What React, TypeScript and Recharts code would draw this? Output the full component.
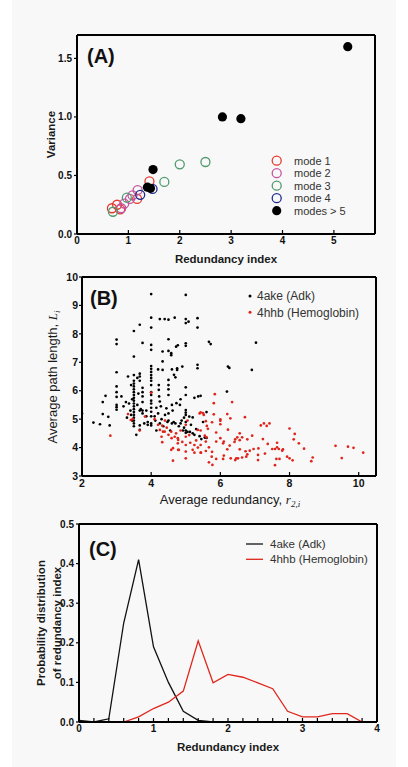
import React from 'react';
import { ScatterChart, Scatter, XAxis, YAxis, LineChart, Line } from 'recharts';

const FONT = '"Liberation Sans", Arial, Helvetica, sans-serif';
const SERIF = '"Liberation Serif", "Times New Roman", serif';

// ---------- Panel A: variance vs redundancy index ----------
const modeNames = ['mode 1', 'mode 2', 'mode 3', 'mode 4', 'modes > 5'];
const modeColors = ['#e8392b', '#c4549f', '#4f9a6c', '#1f2d8f', '#000000'];
const mode1 = [[0.68, 0.22], [0.78, 0.25], [0.84, 0.21], [1.17, 0.3], [1.41, 0.45]];
const mode2 = [[0.86, 0.22], [0.92, 0.26], [1.03, 0.3], [1.08, 0.33], [1.18, 0.375]];
const mode3 = [[0.7, 0.19], [0.97, 0.31], [1.7, 0.445], [2.0, 0.595], [2.5, 0.615]];
const mode4 = [[1.23, 0.335], [1.47, 0.385]];
const modes5 = [[1.37, 0.4], [1.43, 0.39], [1.48, 0.55], [2.83, 1.0], [3.19, 0.985], [5.27, 1.6]];
const aXTicks = [0, 1, 2, 3, 4, 5];
const aYTicks = [0, 0.5, 1.0, 1.5];

// ---------- Panel B: average path length vs average redundancy ----------
const bNames = ['4ake (Adk)', '4hhb (Hemoglobin)'];
const bColors = ['#000000', '#e0241a'];
const adkPoints = [
  [2.0, 5.2], [2.33, 4.88], [2.52, 4.82], [2.6, 5.6], [2.6, 5.18], [2.68, 5.82], [2.76, 5.08], [2.8, 4.78],
  [3.0, 7.8], [3.0, 7.64], [3.0, 6.65], [3.0, 6.15], [3.0, 5.95], [3.0, 5.78], [3.0, 5.5], [3.0, 5.42], [3.0, 5.33],
  [3.14, 5.8], [3.2, 5.45], [3.27, 5.6], [3.3, 5.05], [3.33, 6.5], [3.36, 5.55], [3.4, 5.3], [3.42, 6.2], [3.45, 4.95], [3.45, 5.7], [3.42, 5.15],
  [3.5, 8.1], [3.5, 7.2], [3.5, 6.55], [3.5, 6.35], [3.5, 6.25], [3.5, 6.15], [3.5, 6.05], [3.5, 5.95], [3.5, 5.85], [3.5, 5.75], [3.5, 5.65],
  [3.5, 5.55], [3.5, 5.45], [3.5, 5.35], [3.5, 5.25], [3.5, 5.15], [3.5, 5.05], [3.5, 4.95], [3.5, 4.85], [3.5, 4.75],
  [3.57, 4.45], [3.6, 5.5], [3.6, 6.45], [3.63, 5.9], [3.67, 8.32], [3.67, 6.6], [3.67, 6.5], [3.67, 6.35], [3.67, 5.3], [3.67, 4.78], [3.67, 4.62],
  [3.7, 5.35], [3.75, 7.68], [3.75, 6.1], [3.75, 5.95], [3.75, 5.8], [3.75, 5.6], [3.75, 5.3], [3.75, 5.2], [3.8, 4.85], [3.86, 5.3], [3.86, 5.1],
  [3.9, 4.9], [3.9, 4.8],
  [4.0, 9.4], [4.0, 8.57], [4.0, 8.22], [4.0, 7.61], [4.0, 7.44], [4.0, 6.87], [4.0, 6.77], [4.0, 6.66], [4.0, 6.55], [4.0, 6.45], [4.0, 6.35],
  [4.0, 6.2], [4.0, 5.95], [4.0, 5.85], [4.0, 5.65], [4.0, 5.55], [4.0, 5.4], [4.0, 5.26], [4.0, 5.1], [4.0, 4.85], [4.0, 4.78],
  [4.1, 5.1], [4.12, 4.95], [4.15, 5.4], [4.15, 4.6], [4.2, 6.75], [4.2, 5.2], [4.22, 6.2], [4.22, 6.03], [4.23, 5.8], [4.25, 8.52], [4.25, 5.62],
  [4.25, 4.85], [4.28, 5.45], [4.3, 5.0], [4.33, 7.38], [4.33, 7.03], [4.33, 6.73], [4.35, 4.75], [4.39, 8.52], [4.4, 5.15], [4.44, 5.38], [4.47, 4.9],
  [4.5, 8.5], [4.5, 7.81], [4.5, 7.4], [4.5, 6.38], [4.5, 6.2], [4.5, 6.05], [4.5, 5.85], [4.5, 5.2], [4.5, 4.95], [4.55, 4.6], [4.58, 7.32],
  [4.58, 7.25], [4.6, 6.75], [4.6, 5.5], [4.6, 4.85], [4.62, 5.3], [4.65, 4.9], [4.66, 6.56], [4.68, 8.57], [4.7, 6.47], [4.7, 4.85], [4.72, 7.55],
  [4.73, 5.56], [4.75, 6.79], [4.75, 6.73], [4.77, 7.6], [4.8, 4.75], [4.83, 5.5], [4.85, 5.7], [4.85, 4.85], [4.88, 4.95], [4.9, 6.85], [4.92, 4.6],
  [4.95, 5.05], [4.95, 4.7],
  [5.0, 9.37], [5.0, 8.52], [5.0, 8.38], [5.0, 7.67], [5.0, 7.58], [5.0, 6.12], [5.0, 5.85], [5.0, 5.32], [5.0, 5.23], [5.0, 5.15], [5.0, 4.9],
  [5.0, 4.6], [5.0, 4.52], [5.05, 4.55], [5.08, 8.43], [5.1, 5.09], [5.12, 4.55], [5.15, 4.8], [5.2, 5.06], [5.2, 4.5], [5.25, 5.75], [5.25, 4.45],
  [5.3, 4.65], [5.34, 8.55], [5.34, 8.22], [5.34, 6.91], [5.34, 6.79], [5.36, 5.8], [5.4, 4.4], [5.43, 5.82], [5.45, 4.3], [5.5, 4.9], [5.55, 4.35],
  [5.6, 5.25], [5.6, 4.34], [5.67, 7.72], [5.72, 7.64], [6.19, 5.97], [6.22, 6.85], [6.26, 6.8], [6.91, 6.73], [7.03, 7.69],
];
const hbPoints = [
  [2.82, 4.42], [3.33, 5.18], [3.41, 4.97], [3.46, 5.0], [3.67, 4.6], [3.82, 5.09], [4.0, 5.93], [4.1, 5.0], [4.2, 4.8], [4.25, 4.62], [4.32, 4.77],
  [4.34, 4.56], [4.32, 4.19], [4.4, 4.95], [4.45, 4.7], [4.5, 4.45], [4.58, 4.56], [4.58, 3.92], [4.63, 3.54], [4.68, 4.38], [4.72, 4.5], [4.77, 4.33],
  [4.77, 4.15], [4.8, 3.92], [4.85, 4.6], [4.9, 4.2], [5.0, 4.38], [5.0, 4.09], [5.0, 3.86], [5.0, 3.62], [5.0, 4.8], [5.05, 4.95], [5.1, 4.44],
  [5.13, 4.17], [5.2, 3.92], [5.25, 4.09], [5.25, 3.82], [5.3, 4.25], [5.35, 4.62], [5.35, 4.0], [5.4, 5.2], [5.44, 3.82],
  [4.3, 4.38], [4.39, 4.56], [4.59, 4.33], [4.78, 4.27], [4.63, 3.98], [4.78, 3.92],
  [5.84, 5.88], [5.81, 5.56], [6.34, 5.6], [5.43, 5.24], [5.5, 5.21], [5.52, 5.15], [5.81, 5.17], [6.2, 5.18], [6.29, 5.03], [6.0, 4.99],
  [6.0, 4.94], [5.58, 4.93], [5.76, 4.89], [6.0, 4.82], [5.61, 4.76], [5.64, 4.66], [6.71, 5.07], [5.43, 4.6], [6.22, 4.63], [5.88, 4.53],
  [5.55, 4.42], [5.6, 4.36], [6.56, 4.5], [6.49, 4.36], [6.63, 4.36], [6.0, 4.33], [6.43, 4.29], [6.56, 4.26], [6.78, 4.29], [6.92, 4.42],
  [7.23, 4.3], [5.58, 4.21], [5.88, 4.21], [6.1, 4.21], [6.08, 4.15], [5.43, 4.09], [6.41, 4.2], [6.27, 4.07], [5.67, 4.01], [5.58, 3.88],
  [5.76, 3.85], [5.43, 3.82], [6.2, 3.94], [6.56, 3.94], [6.73, 3.87], [6.85, 3.89], [6.96, 3.95], [7.1, 3.97], [7.37, 4.13], [7.5, 3.95],
  [7.58, 3.95], [7.64, 4.01], [7.69, 3.95], [7.79, 3.89], [7.81, 3.94], [7.64, 4.17], [7.17, 4.78], [7.26, 4.85], [7.34, 4.76], [7.42, 4.85],
  [7.29, 3.79], [6.78, 3.76], [6.75, 3.68], [7.09, 3.74], [7.09, 3.56], [6.1, 3.72], [6.08, 3.6], [5.75, 3.68], [5.88, 3.6], [6.3, 3.62],
  [6.46, 3.62], [6.51, 3.62], [6.43, 3.56], [6.63, 3.65], [7.62, 3.6], [7.71, 3.6], [5.67, 3.48], [5.77, 3.39], [7.58, 3.38], [7.93, 3.68],
  [8.0, 3.62], [8.09, 3.55], [8.0, 4.67], [8.15, 4.48], [8.12, 4.29], [8.27, 4.15], [8.42, 3.96], [8.67, 3.65], [8.63, 3.52], [9.33, 4.06],
  [9.51, 3.63], [9.69, 4.03], [9.85, 3.99], [10.13, 3.82],
];
const bXTicks = [2, 4, 6, 8, 10];
const bYTicks = [3, 4, 5, 6, 7, 8, 9, 10];

// ---------- Panel C: probability distribution of redundancy index ----------
const cX = [0, 0.2, 0.4, 0.6, 0.8, 1.0, 1.2, 1.4, 1.6, 1.8, 2.0, 2.2, 2.4, 2.6, 2.8, 3.0, 3.2, 3.4, 3.6, 3.8];
const cAdk = [0.004, 0.0, 0.008, 0.25, 0.41, 0.19, 0.1, 0.027, 0.004, 0.0];
const cHb = [0.001, 0.0, 0.0, 0.0, 0.013, 0.034, 0.05, 0.078, 0.205, 0.099, 0.12, 0.113, 0.099, 0.084, 0.027, 0.013, 0.013, 0.021, 0.021, 0.0];
const cXTicks = [0, 0.2, 0.4, 0.6, 0.8, 1, 1.2, 1.4, 1.6, 1.8, 2, 2.2, 2.4, 2.6, 2.8, 3, 3.2, 3.4, 3.6, 3.8, 4];
const cYTicks = [0, 0.1, 0.2, 0.3, 0.4, 0.5];

const toXY = (arr: number[][]) => arr.map(([x, y]) => ({ x, y }));
const aSeries = [mode1, mode2, mode3, mode4, modes5].map(toXY);
const bSeries = [adkPoints, hbPoints].map(toXY);
const cData = cX.map((x, i) => ({ x, adk: i < cAdk.length ? cAdk[i] : undefined, hb: cHb[i] }));

const AXIS_LINE = { stroke: '#000', strokeWidth: 2 };
const TICK_LINE = { stroke: '#000', strokeWidth: 1.2 };
const tickStyle = (size: number) => ({ fill: '#111', fontSize: size, fontWeight: 700, fontFamily: FONT });

const openCircle = (color: string) => (p: any) => (
  <circle cx={p.cx} cy={p.cy} r={4.5} fill="none" stroke={color} strokeWidth={1.3} />
);
const filledCircle = (color: string, r: number) => (p: any) => (
  <circle cx={p.cx} cy={p.cy} r={r} fill={color} stroke="none" />
);
const noShape = () => <g />;

function PanelA() {
  return (
    <ScatterChart width={408} height={268} margin={{ top: 34, right: 32, bottom: 0, left: 0 }}>
      <XAxis xAxisId="b" type="number" dataKey="x" domain={[0, 5.8]} allowDataOverflow ticks={aXTicks} interval={0}
        height={34} tickSize={-4} tickMargin={7} axisLine={AXIS_LINE} tickLine={TICK_LINE} tick={tickStyle(10)} />
      <XAxis xAxisId="t" orientation="top" type="number" dataKey="x" domain={[0, 5.8]} allowDataOverflow ticks={aXTicks.slice(1)} interval={0}
        height={1} tickSize={-4} tick={false} axisLine={AXIS_LINE} tickLine={TICK_LINE} />
      <YAxis yAxisId="l" type="number" dataKey="y" domain={[0, 1.7]} allowDataOverflow ticks={aYTicks} interval={0}
        width={77} tickSize={3} tickMargin={2} axisLine={AXIS_LINE} tickLine={TICK_LINE} tick={tickStyle(10)}
        tickFormatter={(v: number) => v.toFixed(1)} />
      <YAxis yAxisId="r" orientation="right" type="number" dataKey="y" domain={[0, 1.7]} allowDataOverflow ticks={aYTicks.slice(1)} interval={0}
        width={1} tickSize={-4} tick={false} axisLine={AXIS_LINE} tickLine={TICK_LINE} />
      <Scatter xAxisId="t" yAxisId="r" data={aSeries[4]} isAnimationActive={false} shape={noShape} legendType="none" />
      {aSeries.map((d, i) => (
        <Scatter key={modeNames[i]} name={modeNames[i]} xAxisId="b" yAxisId="l" data={d} fill={modeColors[i]}
          isAnimationActive={false}
          shape={i === 4 ? filledCircle(modeColors[i], 4.6) : openCircle(modeColors[i])} />
      ))}
    </ScatterChart>
  );
}

function PanelB() {
  return (
    <ScatterChart width={408} height={240} margin={{ top: 8, right: 31, bottom: 0, left: 0 }}>
      <XAxis xAxisId="b" type="number" dataKey="x" domain={[2, 10.5]} allowDataOverflow ticks={bXTicks} interval={0}
        height={32} tickSize={-4} tickMargin={8} axisLine={AXIS_LINE} tickLine={TICK_LINE} tick={tickStyle(10.5)} />
      <XAxis xAxisId="t" orientation="top" type="number" dataKey="x" domain={[2, 10.5]} allowDataOverflow ticks={bXTicks} interval={0}
        height={1} tick={false} tickLine={false} axisLine={AXIS_LINE} />
      <YAxis yAxisId="l" type="number" dataKey="y" domain={[3, 10]} allowDataOverflow ticks={bYTicks} interval={0}
        width={82} tickSize={3} tickMargin={1} axisLine={AXIS_LINE} tickLine={TICK_LINE} tick={tickStyle(10.5)} />
      <YAxis yAxisId="r" orientation="right" type="number" dataKey="y" domain={[3, 10]} allowDataOverflow ticks={bYTicks} interval={0}
        width={1} tick={false} tickLine={false} axisLine={AXIS_LINE} />
      <Scatter xAxisId="t" yAxisId="r" data={bSeries[0]} isAnimationActive={false} shape={noShape} legendType="none" />
      {bSeries.map((d, i) => (
        <Scatter key={bNames[i]} name={bNames[i]} xAxisId="b" yAxisId="l" data={d} fill={bColors[i]}
          isAnimationActive={false} shape={filledCircle(bColors[i], 1.35)} />
      ))}
    </ScatterChart>
  );
}

function PanelC() {
  return (
    <LineChart width={408} height={259} data={cData} margin={{ top: 15, right: 30, bottom: 0, left: 0 }}>
      <XAxis xAxisId="b" type="number" dataKey="x" domain={[0, 4]} allowDataOverflow ticks={cXTicks} interval={0}
        height={45} tickSize={-4} tickMargin={7} axisLine={AXIS_LINE} tickLine={TICK_LINE} tick={tickStyle(10)}
        tickFormatter={(v: number) => (Number.isInteger(v) ? String(v) : '')} />
      <XAxis xAxisId="t" orientation="top" type="number" dataKey="x" domain={[0, 4]} allowDataOverflow ticks={cXTicks} interval={0}
        height={1} tickSize={-4} tick={false} axisLine={AXIS_LINE} tickLine={TICK_LINE} />
      <YAxis yAxisId="l" type="number" domain={[0, 0.5]} allowDataOverflow ticks={cYTicks} interval={0}
        width={79} tickSize={3} tickMargin={2} axisLine={AXIS_LINE} tickLine={TICK_LINE} tick={tickStyle(10)}
        tickFormatter={(v: number) => v.toFixed(1)} />
      <YAxis yAxisId="r" orientation="right" type="number" domain={[0, 0.5]} allowDataOverflow ticks={cYTicks} interval={0}
        width={1} tickSize={-4} tick={false} axisLine={AXIS_LINE} tickLine={TICK_LINE} />
      <Line xAxisId="t" yAxisId="r" type="linear" dataKey="hb" stroke="none" strokeWidth={0} dot={false}
        activeDot={false} legendType="none" isAnimationActive={false} />
      <Line xAxisId="b" yAxisId="l" type="linear" dataKey="adk" name={bNames[0]} stroke="#111" strokeWidth={1.3}
        dot={false} isAnimationActive={false} />
      <Line xAxisId="b" yAxisId="l" type="linear" dataKey="hb" name={bNames[1]} stroke="#e0261c" strokeWidth={1.3}
        dot={false} isAnimationActive={false} />
    </LineChart>
  );
}

function Overlay() {
  const title = { fontFamily: FONT, fontWeight: 700, fontSize: 11.5, fill: '#1a1a1a' } as const;
  const leg = { fontFamily: FONT, fontSize: 11, fill: '#333' } as const;
  return (
    <svg width={408} height={767} style={{ position: 'absolute', left: 0, top: 0, pointerEvents: 'none' }}>
      {/* Panel A */}
      <text x={87} y={62.5} style={{ fontFamily: FONT, fontWeight: 700, fontSize: 20 }} fill="#111">(A)</text>
      <text x={226} y={263} textAnchor="middle" style={title}>Redundancy index</text>
      <text transform="translate(54.5,134.5) rotate(-90)" textAnchor="middle" style={title}>Variance</text>
      {modeNames.map((n, i) => (
        <g key={n}>
          {i === 4
            ? <circle cx={276.7} cy={160.7 + i * 12.5} r={4.6} fill="#000" />
            : <circle cx={276.7} cy={160.7 + i * 12.5} r={4.5} fill="none" stroke={modeColors[i]} strokeWidth={1.3} />}
          <text x={294} y={164.7 + i * 12.5} style={leg}>{n}</text>
        </g>
      ))}
      {/* Panel B */}
      <text x={90} y={304.5} style={{ fontFamily: FONT, fontWeight: 700, fontSize: 20 }} fill="#111">(B)</text>
      <text x={230} y={504} textAnchor="middle" style={{ fontFamily: FONT, fontSize: 13, fill: '#1a1a1a' }}>
        Average redundancy, <tspan style={{ fontFamily: SERIF, fontStyle: 'italic' }}>r</tspan>
        <tspan dy={3} style={{ fontFamily: SERIF, fontStyle: 'italic', fontSize: 9 }}>2,i</tspan>
      </text>
      <text transform="translate(57,377) rotate(-90)" textAnchor="middle" style={{ fontFamily: FONT, fontSize: 13, fill: '#1a1a1a' }}>
        Average path length, <tspan style={{ fontFamily: SERIF, fontStyle: 'italic' }}>L</tspan>
        <tspan dy={3} style={{ fontFamily: SERIF, fontStyle: 'italic', fontSize: 9 }}>i</tspan>
      </text>
      {bNames.map((n, i) => (
        <g key={n}>
          <circle cx={250} cy={296 + i * 16.3} r={1.5} fill={bColors[i]} />
          <text x={257} y={300.2 + i * 16.3} style={{ fontFamily: FONT, fontSize: 12, fill: '#333' }}>{n}</text>
        </g>
      ))}
      {/* Panel C */}
      <text x={89} y={556} style={{ fontFamily: FONT, fontWeight: 700, fontSize: 20 }} fill="#111">(C)</text>
      <text x={228} y={751} textAnchor="middle" style={title}>Redundancy index</text>
      <text transform="translate(44.5,623) rotate(-90)" textAnchor="middle" style={title}>Probability distribution</text>
      <text transform="translate(60.5,623) rotate(-90)" textAnchor="middle" style={title}>of redundancy index</text>
      {bNames.map((n, i) => (
        <g key={n}>
          <line x1={246} x2={263} y1={544 + i * 15.3} y2={544 + i * 15.3} stroke={i === 0 ? '#111' : '#e0261c'} strokeWidth={1.3} />
          <text x={270} y={548 + i * 15.3} style={{ fontFamily: FONT, fontSize: 11.5, fill: '#333' }}>{n}</text>
        </g>
      ))}
    </svg>
  );
}

export default function App() {
  return (
    <div style={{ position: 'absolute', left: 0, top: 0, width: 408, height: 767, background: '#ffffff', overflow: 'hidden' }}>
      <div style={{ position: 'absolute', left: 12, top: 0, width: 384, height: 767, background: '#f8f8f8' }} />
      <div style={{ position: 'absolute', left: 0, top: 0 }}><PanelA /></div>
      <div style={{ position: 'absolute', left: 0, top: 268 }}><PanelB /></div>
      <div style={{ position: 'absolute', left: 0, top: 508 }}><PanelC /></div>
      <Overlay />
    </div>
  );
}
